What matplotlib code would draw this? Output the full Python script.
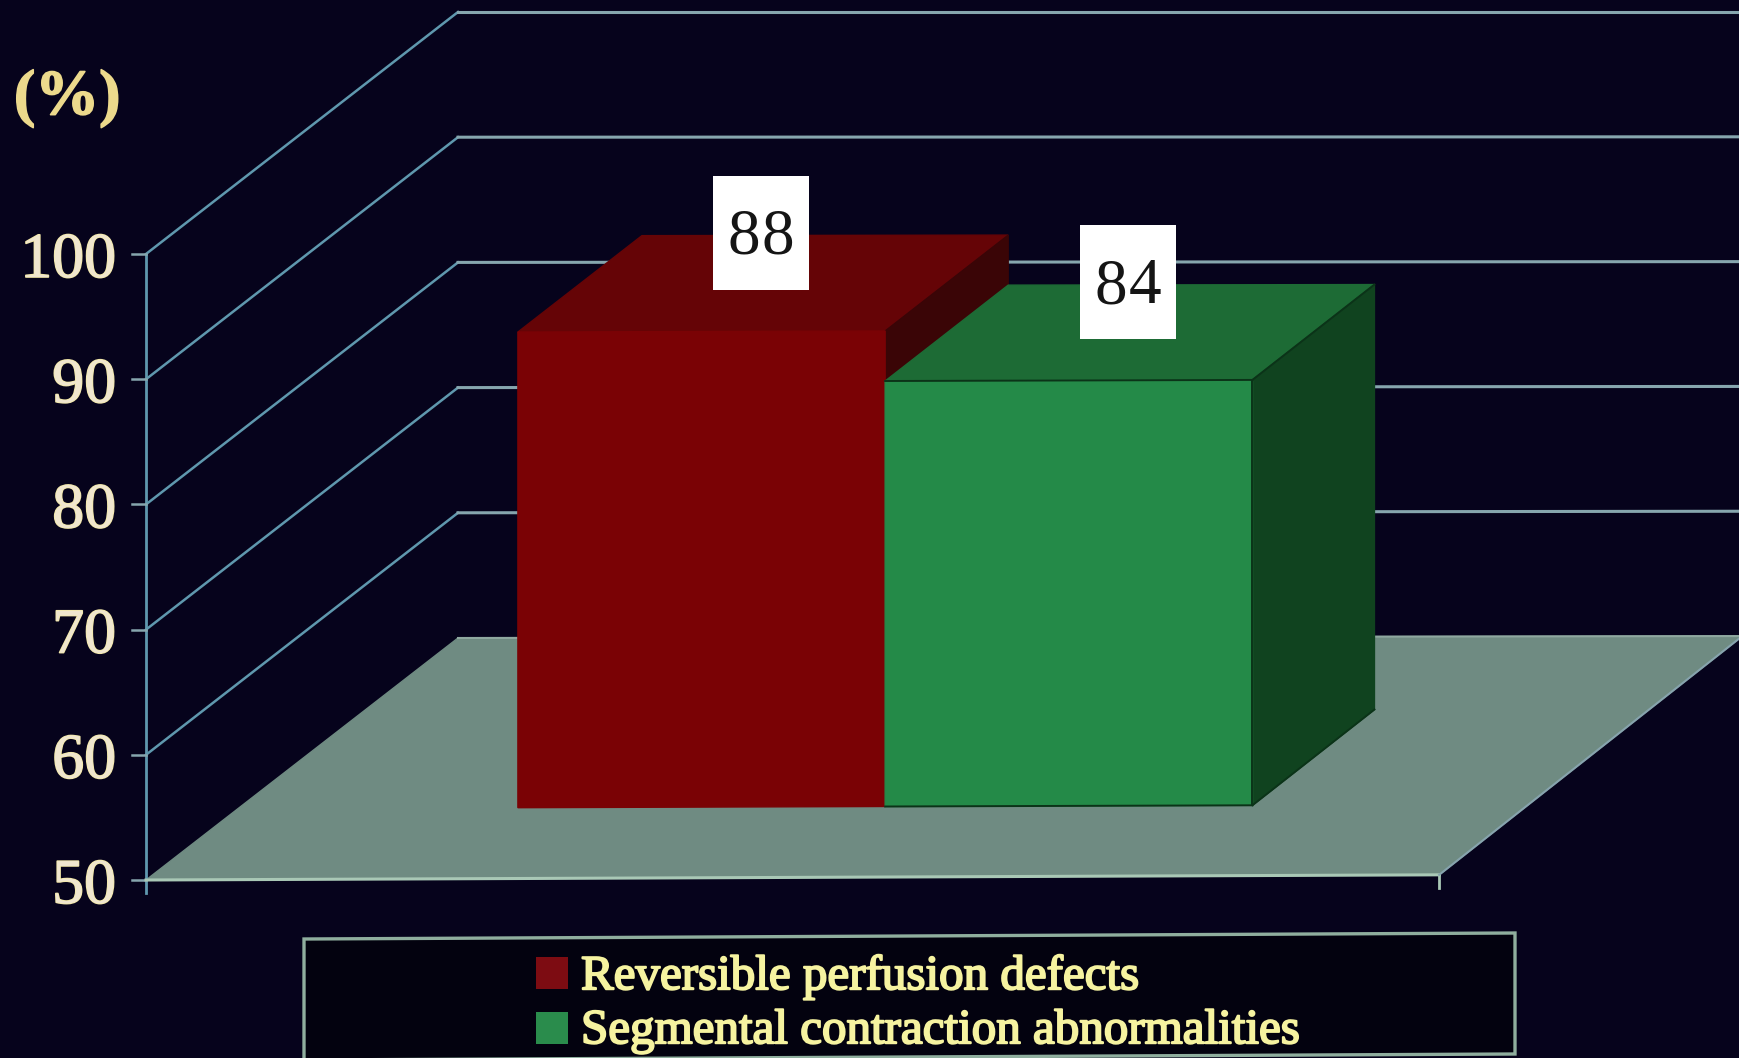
import matplotlib
matplotlib.use("Agg")
import matplotlib.pyplot as plt
import matplotlib.patheffects as pe
from matplotlib.patches import Polygon, Rectangle

categories = ["Reversible perfusion defects", "Segmental contraction abnormalities"]
values = [88, 84]
y_ticks = [50, 60, 70, 80, 90, 100]

bar_colors = {
    "front": ["#7a0205", "#248a48"],
    "top": ["#650406", "#1d6b35"],
    "side": ["#3a0506", "#10431f"],
}
legend_colors = ["#7d0c12", "#2a8c4c"]

BG = "#06031c"
GRID = "#86a6ae"
AXIS = "#5f98ae"
FLOOR = "#6f8b82"
LABEL = "#f0e6cf"


def project(x, v, d):
    # oblique view: x in bar widths, v in percent, d is depth 0..1
    px = 146 + 368 * x + (312 - 2.5 * x) * d
    tilt = 0.004 * (1 - d) + 0.0015 * d * (100 - v) / 50
    py = 880 - (v - 50) * 12.52 - 242 * d - tilt * 368 * x
    return px, py


def face(pts, color, zorder, edge=None):
    ax.add_patch(Polygon([project(*p) for p in pts], closed=True, facecolor=color,
                         edgecolor=edge or color, linewidth=1.0, zorder=zorder))


def bar3d(x0, val, color_i, zorder):
    x1 = x0 + 1
    d0, d1 = bar_depth
    face([(x0, 50, d0), (x1, 50, d0), (x1, val, d0), (x0, val, d0)],
         bar_colors["front"][color_i], zorder + 0.2)
    face([(x0, val, d0), (x1, val, d0), (x1, val, d1), (x0, val, d1)],
         bar_colors["top"][color_i], zorder)
    face([(x1, 50, d0), (x1, 50, d1), (x1, val, d1), (x1, val, d0)],
         bar_colors["side"][color_i], zorder + 0.1)


fig = plt.figure(figsize=(17.4, 10.58), dpi=100, facecolor=BG)
ax = fig.add_axes([0, 0, 1, 1])
ax.set_xlim(0, 1740)
ax.set_ylim(1058, 0)
ax.axis("off")

floor_w = 3.514
bar_depth = (0.295, 0.695)
bar_x = [0.762, 1.762]

plt.rcParams["font.family"] = ["Liberation Serif", "DejaVu Serif"]

# floor
face([(0, 50, 0), (floor_w, 50, 0), (floor_w, 50, 1), (0, 50, 1)], FLOOR, 1)

# side wall and back wall gridlines
for t in y_ticks[1:]:
    x0, y0 = project(0, t, 0)
    x1, y1 = project(0, t, 1)
    x2, y2 = project(4.5, t, 1)
    ax.plot([x0, x1], [y0, y1], color=AXIS, lw=1.8, zorder=2)
    ax.plot([x1, x2], [y1, y2], color=GRID, lw=2.2, zorder=2)

# back edge of the floor
x1, y1 = project(0, 50, 1)
x2, y2 = project(floor_w, 50, 1)
ax.plot([x1, x2], [y1, y2], color="#8fa8a0", lw=1.5, zorder=2)

# left axis with ticks
x_a, y_top = project(0, 100, 0)
_, y_bot = project(0, 50, 0)
ax.plot([x_a, x_a], [y_top, y_bot + 13], color=AXIS, lw=2.0, zorder=3)
for t in y_ticks:
    _, y = project(0, t, 0)
    ax.plot([x_a - 14, x_a], [y, y], color=GRID, lw=1.8, zorder=3)
    ax.text(x_a - 30, y + 1, str(t), ha="right", va="center_baseline", fontsize=46,
            color=LABEL, zorder=5,
            path_effects=[pe.withStroke(linewidth=1.2, foreground="#f3e9a8")])

# front and right edges of the floor
x_r, y_r = project(floor_w, 50, 0)
x_rb, y_rb = project(floor_w, 50, 1)
ax.plot([x_a, x_r], [y_bot, y_r], color="#a9c8b6", lw=2.2, zorder=3)
ax.plot([x_r, x_r], [y_r, y_r + 13], color="#a9c8b6", lw=2.0, zorder=3)
ax.plot([x_r, x_rb], [y_r, y_rb], color="#86a3ad", lw=1.5, zorder=3)

ax.text(14, 99, "(%)", ha="left", va="center", fontsize=46, fontweight="bold",
        color="#ecd98c", zorder=5,
        path_effects=[pe.withStroke(linewidth=1.2, foreground="#ecd98c")])

# bars, red first so the green one sits in front of its side face
bar3d(bar_x[0], values[0], 0, 4)
bar3d(bar_x[1], values[1], 1, 5)

# dark seams on the green bar
d0, d1 = bar_depth
xg = bar_x[1]
vg = values[1]
for a, b in [((xg, vg, d0), (xg + 1, vg, d0)),
             ((xg + 1, vg, d0), (xg + 1, 50, d0)),
             ((xg + 1, vg, d0), (xg + 1, vg, d1)),
             ((xg + 1, 50, d0), (xg + 1, 50, d1)),
             ((xg, 50, d0), (xg + 1, 50, d0))]:
    pa, pb = project(*a), project(*b)
    ax.plot([pa[0], pb[0]], [pa[1], pb[1]], color="#0b3318", lw=1.4, zorder=6)

# value labels sit in white boxes above the centre of each bar top
for x0, val in zip(bar_x, values):
    cx, cy = project(x0 + 0.5, val, 0.5)
    cx -= 4
    cy -= 49
    ax.add_patch(Rectangle((cx - 48, cy - 57), 96, 114, facecolor="white",
                           edgecolor="none", zorder=7))
    for offset, digit in zip([-17, 17], str(val)):
        ax.text(cx + offset, cy + 5, digit, ha="center", va="center", fontsize=47,
                color="#151515", zorder=8)

# legend frame leans a little, as on the slide
ax.add_patch(Polygon([(304, 939), (1515, 933), (1515, 1054), (304, 1060)], closed=True,
                     facecolor="#03020f", edgecolor="#8fae9e", linewidth=2.4, zorder=2))
swatch_y = [957, 1012]
text_y = [977, 1031]
for name, col, sy, ty in zip(categories, legend_colors, swatch_y, text_y):
    ax.add_patch(Rectangle((536, sy), 32, 32, facecolor=col, edgecolor="none", zorder=3))
    ax.text(581, ty, name, ha="left", va="center", fontsize=35.3, color="#f6f3a0", zorder=4,
            path_effects=[pe.withStroke(linewidth=1.4, foreground="#f6f3a0")])

fig.savefig("out.png", dpi=100, facecolor=BG)
